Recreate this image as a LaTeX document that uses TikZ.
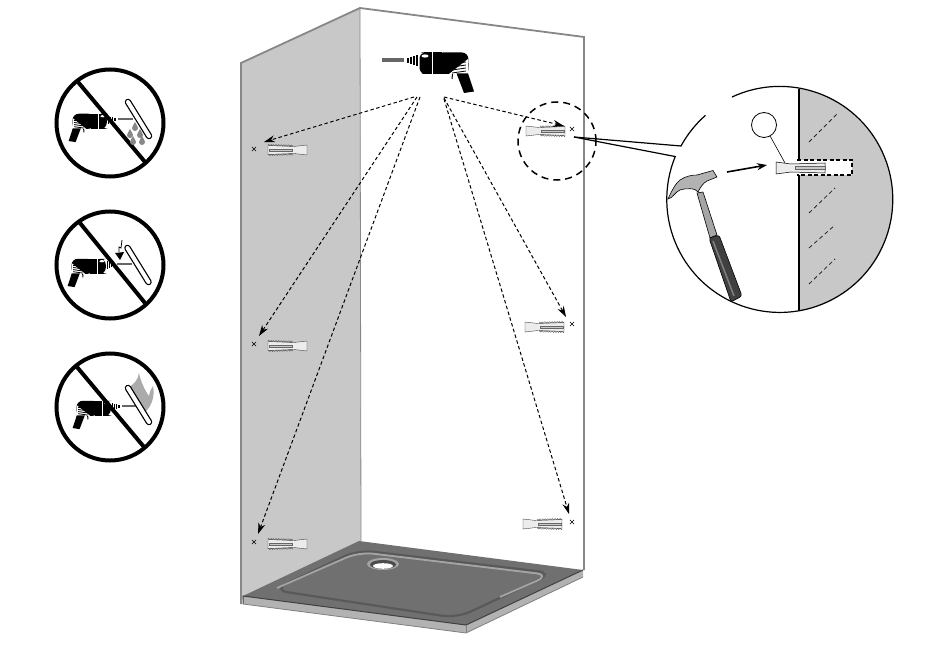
\documentclass[tikz,border=0pt]{standalone}
\usepackage{xcolor}
\usetikzlibrary{arrows.meta,shapes.misc,decorations.pathmorphing}
\definecolor{wallcolor}{RGB}{200,200,200}
\definecolor{edgecolor}{RGB}{135,135,135}
\definecolor{rimcolor}{RGB}{112,112,112}
\definecolor{basincolor}{RGB}{112,112,112}
\definecolor{ridgecolor}{RGB}{165,165,165}
\definecolor{frontcolor}{RGB}{178,178,178}
\definecolor{plugcolor}{RGB}{236,236,236}
\tikzset{
    hole/.style={draw, cross out, inner sep=0pt, minimum size=3.5pt, line width=.6pt},
    drillpath/.style={dash pattern=on 3.5pt off 2.5pt, line width=1pt, -{Stealth[length=11pt,width=7pt]}},
    ring/.style={draw, circle, line width=4pt, minimum size=107pt, inner sep=0pt},
    pipe/.pic={
        \draw[line width=6.5pt, line cap=round] (0,0) -- (21,34);
        \draw[white, line width=4pt, line cap=round] (0,0) -- (21,34);
    },
    drop/.pic={
        \fill[edgecolor] (0,-4) .. controls (1,-1) and (3,0) .. (3,2) arc[start angle=0, end angle=-180, radius=3pt] .. controls (-3,0) and (-1,-1) .. (0,-4) -- cycle;
    },
    drillgun/.pic={
        \fill[black!60] (22,-1.8) rectangle (0,1.8);
        \foreach \x/\h in {25/2.5,28/3.5,31/4.5,34/5.5}
            \fill (\x,-\h+1) rectangle (\x+2,\h+1);
        \fill[rounded corners=6pt] (45,-7.5) -- (37.5,-7.5) -- (37.5,14) -- (45,14) -- cycle;
        \fill (42,-7.5) rectangle (60,14);
        \fill[rounded corners=6pt] (55,-7.5) -- (86,-7.5) -- (87,14) -- (55,14) -- cycle;
        \draw[white, line width=.8pt] (50,-7.5) -- (50,14);
        \fill[white] (86,-1) -- (86.5,14) -- (67,14) -- cycle;
        \foreach \i in {2,5,8,11}
            \draw[line width=.8pt] (84,\i) -- (70,\i+2);
        \fill[white] (43,-4) ellipse (3.5 and 1.6);
        \fill (74.5,13.3) -- (86,13.3) -- (92,31.5) -- (82,33) -- cycle;
        \draw[line width=1pt] (70.5,14) -- (70,19);
    },
    plug/.pic={
        \draw[fill=plugcolor, line width=.4pt, draw=black!75] (0,-5) -- (13,-3.5) -- (39,-4.5) -- (39,4.5) -- (13,3.5) -- (0,5) -- cycle;
        \draw[decorate, decoration={zigzag,segment length=2.5pt,amplitude=.7pt}, line width=.35pt, draw=black!70] (14,-4.4) -- (39,-5);
        \draw[decorate, decoration={zigzag,segment length=2.5pt,amplitude=.7pt}, line width=.35pt, draw=black!70] (14,4.4) -- (39,5);
        \draw[fill=wallcolor, line width=.3pt, draw=black!60] (15,-1.2) rectangle (38,1.2);
    }
}
\begin{document}
\begin{tikzpicture}[x=1pt, y=-1pt]
    \useasboundingbox (0,0) rectangle (950,655);

    % Walls
    \fill[wallcolor] (241,63) -- (360,8) -- (361,545) -- (241,600) -- cycle;
    \draw[edgecolor, line width=1.8pt] (241,604) -- (241,63) -- (360,8) -- (584,37) -- (584,570);
    \draw[edgecolor, line width=.8pt] (360,8) -- (361,541);

    % Tray
    \fill[frontcolor] (243,596) -- (466,625) -- (583,570) -- (583,577) -- (466,633) -- (243,604) -- cycle;
    \fill[rimcolor] (359,541) -- (583,570) -- (466,625) -- (243,596) -- cycle;
    \draw[line width=1pt, black!75] (243,604) -- (243,596) -- (466,625) -- (583,570);
    \draw[line width=.8pt, black!50] (243,604) -- (466,633) -- (583,577);
    \draw[black!50, line width=.8pt] (466,625) -- (466,633);
    \draw[black!65, fill=basincolor, line width=2.2pt, rounded corners=15pt] (358,550) -- (553,573) -- (457,618) -- (273,590) -- cycle;
    \draw[ridgecolor, line width=1.8pt, rounded corners=14pt] (277,588) -- (359,552) -- (550,575) -- (500,597);
    \fill[ridgecolor] (383,564) ellipse (16 and 6);
    \fill[black!70] (383,564.5) ellipse (13 and 4.5);
    \fill[white] (383,566) ellipse (10 and 2.8);

    % Plugs and holes
    \pic[xscale=-1] at (307,150) {plug};
    \pic[xscale=-1] at (307,346) {plug};
    \pic[xscale=-1] at (307,544) {plug};
    \pic at (526,131) {plug};
    \pic at (525,327) {plug};
    \pic at (523,524) {plug};
    \node[hole] (holeA) at (254,149) {};
    \node[hole] (holeB) at (254,344) {};
    \node[hole] (holeC) at (254,542) {};
    \node[hole] (holeD) at (572,129) {};
    \node[hole] (holeE) at (572,324) {};
    \node[hole] (holeF) at (572,522) {};

    % Drill and arrows
    \pic at (382,60) {drillgun};
    \coordinate (startA) at (414,97);
    \coordinate (startB) at (417,97);
    \coordinate (startC) at (420,97);
    \coordinate (startD) at (444,97);
    \coordinate (startE) at (444,98);
    \coordinate (startF) at (444,99);
    \coordinate (endA) at (264,142);
    \coordinate (endB) at (259,336);
    \coordinate (endC) at (258,534);
    \coordinate (endD) at (564,126);
    \coordinate (endE) at (566,317);
    \coordinate (endF) at (569,514);
    \draw[drillpath] (startA) -- (endA);
    \draw[drillpath] (startB) -- (endB);
    \draw[drillpath] (startC) -- (endC);
    \draw[drillpath] (startD) -- (endD);
    \draw[drillpath] (startE) -- (endE);
    \draw[drillpath] (startF) -- (endF);

    % Detail circle
    \node[draw, circle, dash pattern=on 7pt off 5pt, line width=1.5pt, minimum size=78pt, inner sep=0pt] (focus) at (557,141) {};
    \coordinate (leader) at (574,137);
    \coordinate (leaderA) at (681,146);
    \coordinate (leaderB) at (675,157);
    \coordinate (gapA) at (705,115);
    \coordinate (gapB) at (732,97);
    \fill[wallcolor] (799,88.6) arc[start angle=80.3, end angle=-80.3, radius=113pt] -- cycle;
    \draw[line width=1.2pt] (leader) -- (leaderA) arc[start angle=151.4, end angle=131.4, radius=113pt];
    \draw[line width=1.2pt] (gapB) arc[start angle=115, end angle=-202.3, radius=113pt] -- (leader);
    \draw[line width=1.6pt] (799,88.6) -- (799,311.4);

    % Dashes in the wall
    \foreach \xa/\ya/\xb/\yb in {809/142/838/113,809/213/835/188,809/248/835/225,809/284/835/259} {
        \draw[black!85, line width=.8pt, dash pattern=on 4pt off 3pt] (\xa,\ya) -- (\xb,\yb);
    }

    % Plug in the wall
    \fill[white] (797,160) rectangle (852,175);
    \draw[fill=plugcolor, line width=.5pt] (776,162) -- (791,164) -- (825,163) -- (825,173) -- (791,172) -- (776,174) -- cycle;
    \draw[fill=wallcolor, line width=.4pt, draw=black!60] (795,166.5) rectangle (825,169.5);
    \draw[dash pattern=on 4pt off 2.5pt, line width=1.5pt] (797,160) -- (852,160) -- (852,175) -- (797,175);
    \node[draw, circle, line width=.8pt, minimum size=25pt, inner sep=0pt] (callout) at (764,125) {};
    \coordinate (calloutEnd) at (785,163);
    \draw[line width=.6pt] (callout) -- (calloutEnd);
    \coordinate (hitStart) at (727,172);
    \coordinate (hitEnd) at (767,165);
    \draw[line width=1.6pt, -{Stealth[length=10pt,width=7pt]}] (hitStart) -- (hitEnd);

    % Hammer
    \draw[fill=ridgecolor, line width=.6pt] (697,193) -- (703,192) -- (717,235) -- (710,238) -- cycle;
    \draw[fill=black!30, line width=.6pt] (668,199) .. controls (672,190) and (676,183) .. (680,180) .. controls (686,176) and (692,175) .. (697,175) -- (713,170.5) -- (717,177) -- (707,181) .. controls (703,183) and (700,188) .. (698,192) .. controls (696,188) and (686,188) .. (680,190) .. controls (675,192) and (673,198) .. (668,199) -- cycle;
    \draw[fill=black!75, line width=.6pt, rounded corners=2.5pt] (709,238) -- (719,235) -- (742,296) -- (731,302) -- cycle;
    \draw[black!50, line width=1.5pt] (713,241) -- (734,296);

    % Warning signs
    \foreach \tipx/\tipy in {133/119,132/264,137/406} {
        \pic[xscale=-.7, yscale=.7] at (\tipx,\tipy) {drillgun};
    }
    \fill[edgecolor!70] (139,373) .. controls (141,383) and (146,392) .. (149,396) .. controls (150,391) and (151,389) .. (153,386) .. controls (155,396) and (152,406) .. (145,412) -- (137,398) -- (128,388) .. controls (134,384) and (138,380) .. (139,373) -- cycle;
    \pic at (128,102) {pipe};
    \pic at (127.5,248) {pipe};
    \pic at (128,388) {pipe};
    \node[ring] (signA) at (110,123) {};
    \node[ring] (signB) at (110,265) {};
    \node[ring] (signC) at (110,407) {};
    \draw[line width=4pt] (78,82) -- (145,162);
    \draw[line width=4pt] (80,223) -- (145,303);
    \draw[line width=4pt] (77,367) -- (144,447);
    \pic at (135,126) {drop};
    \pic at (130,133) {drop};
    \pic at (140,133) {drop};
    \pic at (133,140) {drop};
    \pic at (142,140) {drop};
    \draw[line width=.8pt] (122,240) -- (121,248) -- (119,247) -- (119,252);
    \fill (115,253) -- (124,252) -- (120,260) -- cycle;
\end{tikzpicture}
\end{document}
